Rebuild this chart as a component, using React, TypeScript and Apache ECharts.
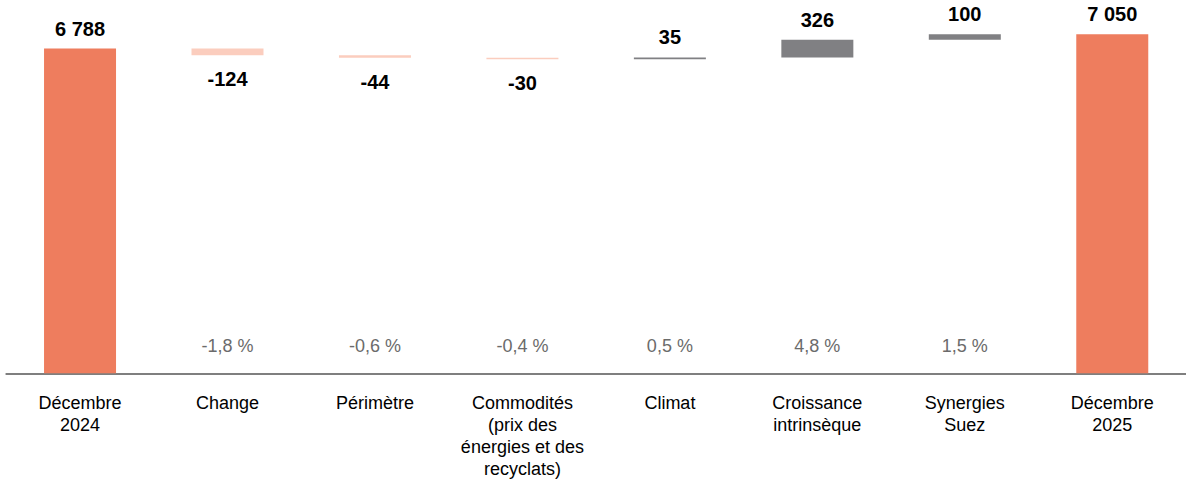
import React, { useEffect, useRef } from "react";
import * as echarts from "echarts";

const categories: string[] = [
  "Décembre\n2024",
  "Change",
  "Périmètre",
  "Commodités\n(prix des\nénergies et des\nrecyclats)",
  "Climat",
  "Croissance\nintrinsèque",
  "Synergies\nSuez",
  "Décembre\n2025",
];
const values: number[] = [6788, -124, -44, -30, 35, 326, 100, 7050];
const isTotal: boolean[] = [true, false, false, false, false, false, false, true];
const percentLabels: string[] = ["", "-1,8 %", "-0,6 %", "-0,4 %", "0,5 %", "4,8 %", "1,5 %", ""];

const COLOR_TOTAL = "#EE7D5E";
const COLOR_NEG = "#FBCDBE";
const COLOR_POS = "#808083";
const FONT = "'Liberation Sans', Arial, Helvetica, sans-serif";

function fmt(v: number): string {
  const s = Math.abs(v).toString().replace(/\B(?=(\d{3})+(?!\d))/g, " ");
  return (v < 0 ? "-" : "") + s;
}

export default function App() {
  const ref = useRef<HTMLDivElement>(null);
  useEffect(() => {
    if (!ref.current) return;
    const chart = echarts.init(ref.current, undefined, { renderer: "svg" });

    const base: number[] = [];
    const visible: any[] = [];
    let running = 0;
    values.forEach((v, i) => {
      if (isTotal[i]) {
        base.push(0);
        running = v;
        visible.push({
          value: v,
          itemStyle: { color: COLOR_TOTAL },
          label: { position: "top", distance: 10 },
        });
      } else if (v < 0) {
        base.push(running + v);
        running = running + v;
        visible.push({
          value: -v,
          itemStyle: { color: COLOR_NEG },
          label: { position: "bottom", distance: 14 },
        });
      } else {
        base.push(running);
        running = running + v;
        visible.push({
          value: v,
          itemStyle: { color: COLOR_POS },
          label: { position: "top", distance: 10 },
        });
      }
    });

    chart.setOption({
      animation: false,
      grid: { left: 6.3, width: 1184, top: 7.5, bottom: 109.7, containLabel: false },
      xAxis: [
        {
          type: "category",
          data: categories,
          position: "bottom",
          axisLine: { show: true, lineStyle: { color: "#7f7f7f", width: 2 } },
          axisTick: { show: false },
          axisLabel: {
            interval: 0,
            fontSize: 18,
            lineHeight: 22,
            color: "#000",
            fontFamily: FONT,
            margin: 19,
          },
        },
        {
          type: "category",
          data: percentLabels,
          position: "bottom",
          offset: -36,
          axisLine: { show: false },
          axisTick: { show: false },
          axisLabel: {
            interval: 0,
            fontSize: 18,
            lineHeight: 18,
            color: "#6b6b6b",
            fontFamily: FONT,
            margin: 0,
          },
        },
      ],
      yAxis: { type: "value", min: 840, max: 7540, show: false },
      series: [
        {
          type: "bar",
          stack: "w",
          data: base,
          barWidth: 72,
          itemStyle: { color: "transparent" },
          emphasis: { disabled: true },
          silent: true,
        },
        {
          type: "bar",
          stack: "w",
          data: visible,
          barWidth: 72,
          label: {
            show: true,
            fontSize: 20,
            fontWeight: "bold",
            color: "#000",
            fontFamily: FONT,
            formatter: (p: any) => fmt(values[p.dataIndex]),
          },
        },
      ],
    });
    return () => chart.dispose();
  }, []);
  return (
    <div
      ref={ref}
      style={{ position: "absolute", left: 0, top: 0, width: 1186, height: 483 }}
    />
  );
}
